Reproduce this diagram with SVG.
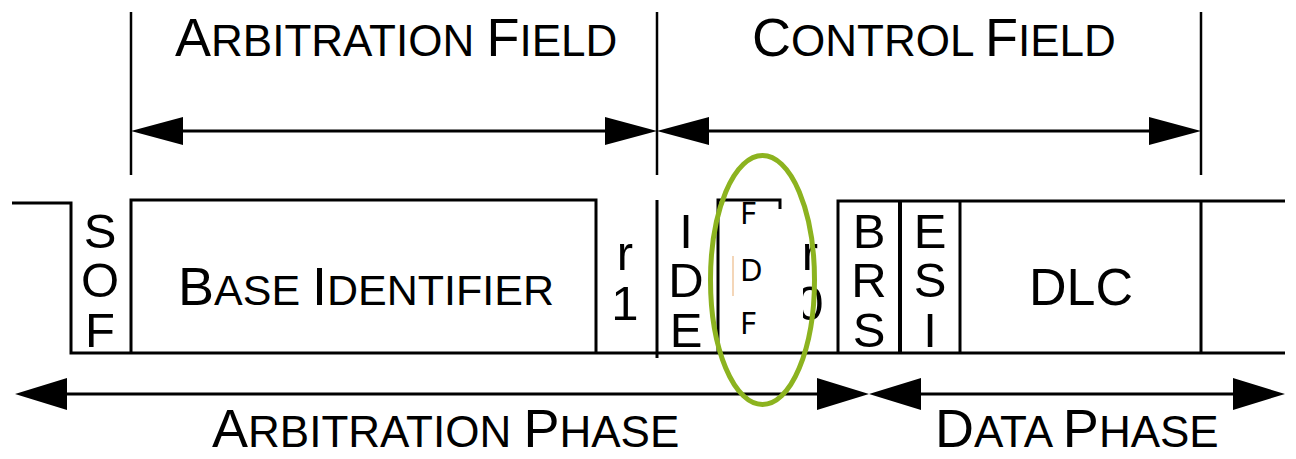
<svg xmlns="http://www.w3.org/2000/svg" width="1296" height="459" viewBox="0 0 1296 459">
<defs>
<style>
text{font-family:"Liberation Sans",Arial,sans-serif;fill:#000}
.b{font-size:54px}
.s{font-size:44px}
.v{font-size:49px;text-anchor:middle}
.f{font-family:"Noto Sans","Open Sans",sans-serif;font-size:31px}
.ln{stroke:#000;stroke-width:3;fill:none}
.tk{stroke:#000;stroke-width:2.5;fill:none}
.ah{fill:#000}
</style>
</defs>
<rect width="1296" height="459" fill="#fff"/>
<g id="labels">
<text x="175" y="56"><tspan class="b">A</tspan><tspan class="s">RBITRATION </tspan><tspan class="b">F</tspan><tspan class="s">IELD</tspan></text>
<text x="752" y="56"><tspan class="b">C</tspan><tspan class="s">ONTROL </tspan><tspan class="b">F</tspan><tspan class="s">IELD</tspan></text>
<text x="212" y="447"><tspan class="b">A</tspan><tspan class="s">RBITRATION </tspan><tspan class="b">P</tspan><tspan class="s">HASE</tspan></text>
<text x="935" y="447"><tspan class="b">D</tspan><tspan class="s">ATA </tspan><tspan class="b">P</tspan><tspan class="s">HASE</tspan></text>
</g>
<g id="connectors">
<line class="tk" x1="131" y1="12" x2="131" y2="175"/>
<line class="tk" x1="657" y1="12" x2="657" y2="175"/>
<line class="tk" x1="1201" y1="12" x2="1201" y2="175"/>
<line class="ln" x1="180" y1="131" x2="610" y2="131"/>
<polygon class="ah" points="131,131 183,117 183,145"/>
<polygon class="ah" points="657,131 605,117 605,145"/>
<line class="ln" x1="705" y1="131" x2="1155" y2="131"/>
<polygon class="ah" points="657,131 709,117 709,145"/>
<polygon class="ah" points="1201,131 1149,117 1149,145"/>
<line class="ln" x1="60" y1="394" x2="825" y2="394"/>
<polygon class="ah" points="15,394 67,378 67,410"/>
<polygon class="ah" points="869,394 817,378 817,410"/>
<line class="ln" x1="912" y1="394" x2="1240" y2="394"/>
<polygon class="ah" points="869,394 921,378 921,410"/>
<polygon class="ah" points="1285,394 1233,378 1233,410"/>
</g>
<g id="signal">
<path class="ln" d="M12,203 H71 V353 H1285"/>
<path class="ln" d="M131,353 V200 H596 V353"/>
<line class="ln" x1="657" y1="200" x2="657" y2="358"/>
<path class="ln" d="M838,353 V201 H1285"/>
<line class="ln" x1="900" y1="201" x2="900" y2="353" style="stroke-width:4"/>
<line class="ln" x1="960" y1="201" x2="960" y2="353"/>
<line class="ln" x1="1201" y1="201" x2="1201" y2="353"/>
</g>
<g id="sof">
<text class="v" x="100" y="248">S</text>
<text class="v" x="100" y="297">O</text>
<text class="v" x="100" y="347">F</text>
</g>
<g id="base-identifier">
<text x="178" y="305"><tspan class="b">B</tspan><tspan class="s" style="font-size:43px">ASE </tspan><tspan class="b">I</tspan><tspan class="s" style="font-size:43px">DENTIFIER</tspan></text>
</g>
<g id="r1">
<text class="v" x="625" y="270">r</text>
<text class="v" x="625" y="320">1</text>
</g>
<g id="ide">
<text class="v" x="686" y="248">I</text>
<text class="v" x="686" y="297">D</text>
<text class="v" x="686" y="347">E</text>
</g>
<g id="r0">
<text class="v" x="810" y="270">r</text>
<text class="v" x="810" y="320">0</text>
</g>
<g id="fdf">
<rect x="719" y="207" width="84" height="144" fill="#fff"/>
<path class="ln" d="M718,353 V200 H780 V209"/>
<line x1="733" y1="256" x2="733" y2="296" stroke="#f0c8a0" stroke-width="1.5"/>
<text class="f" x="740" y="224">F</text>
<text class="f" x="740" y="281">D</text>
<text class="f" x="740" y="334">F</text>
</g>
<g id="brs">
<text class="v" x="869" y="248">B</text>
<text class="v" x="869" y="297">R</text>
<text class="v" x="869" y="347">S</text>
</g>
<g id="esi">
<text class="v" x="930" y="248">E</text>
<text class="v" x="930" y="297">S</text>
<text class="v" x="930" y="347">I</text>
</g>
<g id="dlc">
<text x="1081" y="305" style="font-size:52px;text-anchor:middle">DLC</text>
</g>
<g id="highlight">
<ellipse cx="762.5" cy="280" rx="52" ry="124.5" fill="none" stroke="#8CB31F" stroke-width="5"/>
</g>
</svg>
